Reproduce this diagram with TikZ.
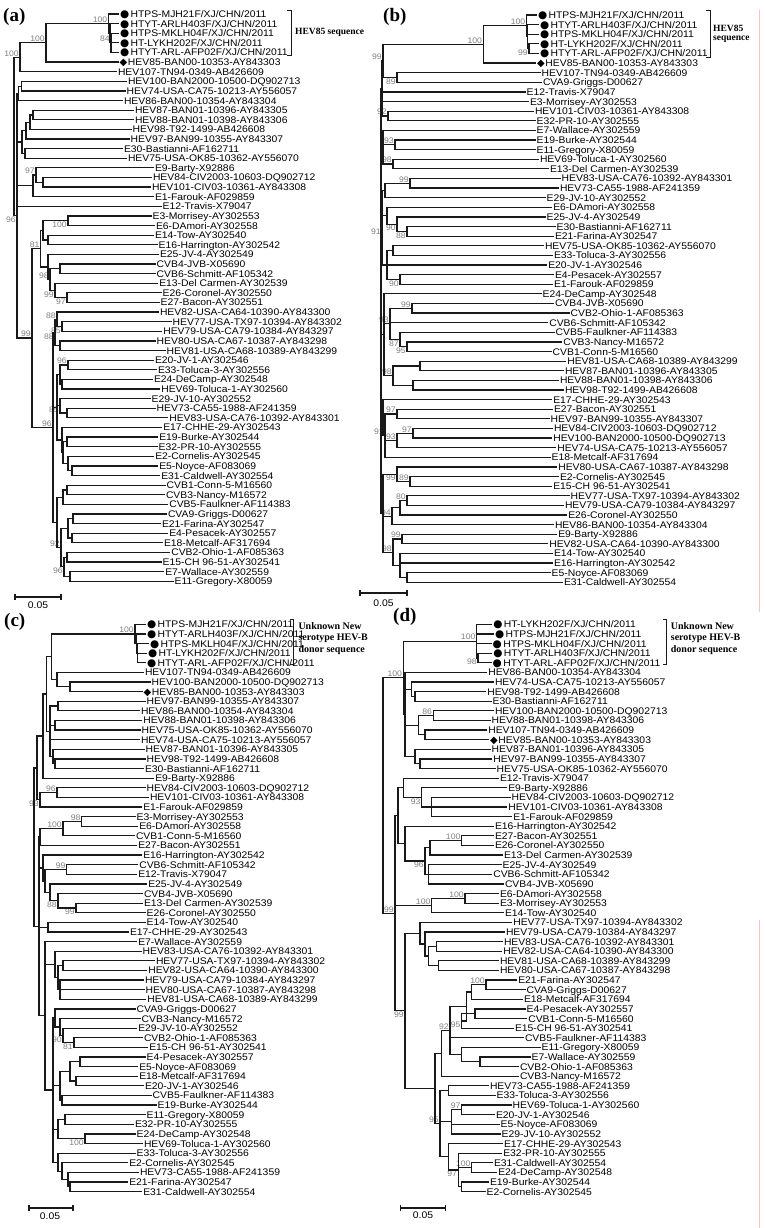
\documentclass[tikz,border=0pt]{standalone}
\usepackage{fontspec}
\setmainfont{Liberation Sans}
\newfontfamily\lff[FakeStretch=1.08]{Liberation Sans}
\newfontfamily\srf{Liberation Serif}
\newfontfamily\symf{DejaVu Sans}
\usetikzlibrary{calc}
\newcommand\mk{{\symf\fontsize{10.5}{10.5}\selectfont ●}\hspace{1.4pt}}
\newcommand\dmk{{\symf\fontsize{10}{10}\selectfont ◆}\hspace{0.8pt}}
\newcommand\Tl[4]{\node[leaf] (#1) at (#2,{\yo+(#3-1)*9.615}) {#4};}
\newcommand\Tn[4]{\path let \p1=(#3),\p2=(#4) in ({#2pt},{(\y1+\y2)/2}) coordinate (#1);
  \draw[br] (#1) |- (#3); \draw[br] (#1) |- (#4);}
\newcommand\Te[2]{\foreach \ch in {#2}{\draw[br] (#1) |- (\ch);}}
\newcommand\BsA[2]{\node[bs,anchor=south east,xshift=-0.5pt,yshift=0.3pt] (#1-b) at (#1) {#2};}
\newcommand\BsB[2]{\node[bs,anchor=north east,xshift=-0.5pt,yshift=-0.3pt] (#1-b) at (#1) {#2};}
\tikzset{
  leaf/.style={anchor=west, inner xsep=1pt, inner ysep=0pt, outer sep=0pt, text height=7pt, text depth=0pt, font=\lff\fontsize{9.6}{9.6}\selectfont},
  br/.style={line width=1.2pt, black!90},
  bs/.style={font=\lff\fontsize{8}{8}\selectfont, text=black!50, inner sep=0.6pt},
  pl/.style={anchor=west, inner sep=0pt, font=\srf\bfseries\fontsize{19}{19}\selectfont},
  bt/.style={anchor=west, inner sep=0pt, align=left, font=\srf\bfseries\fontsize{9.5}{9.4}\selectfont},
  bt2/.style={anchor=west, inner sep=0pt, align=left, font=\srf\bfseries\fontsize{10}{11.7}\selectfont},
  sc/.style={inner sep=0pt, font=\lff\fontsize{9.6}{9.6}\selectfont},
  pk/.style={draw=red!25, line width=0.8pt}
}
\begin{document}
\begin{tikzpicture}[x=1pt,y=-1pt]
\useasboundingbox (0,0) rectangle (764,1228);
\fill[white] (0,0) rectangle (764,1228);
% ================= (a) =================
\def\yo{14}
\node[pl] (la) at (3,17) {(a)};
\Tl{a1}{119}{1}{\mk HTPS-MJH21F/XJ/CHN/2011}
\Tl{a2}{119}{2}{\mk HTYT-ARLH403F/XJ/CHN/2011}
\Tl{a3}{119}{3}{\mk HTPS-MKLH04F/XJ/CHN/2011}
\Tl{a4}{119}{4}{\mk HT-LYKH202F/XJ/CHN/2011}
\Tl{a5}{119}{5}{\mk HTYT-ARL-AFP02F/XJ/CHN/2011}
\Tl{a6}{118.5}{6}{\dmk HEV85-BAN00-10353-AY843303}
\Tl{a7}{117}{7}{HEV107-TN94-0349-AB426609}
\Tl{a8}{127}{8}{HEV100-BAN2000-10500-DQ902713}
\Tl{a9}{125.7}{9}{HEV74-USA-CA75-10213-AY556057}
\Tl{a10}{123}{10}{HEV86-BAN00-10354-AY843304}
\Tl{a11}{134}{11}{HEV87-BAN01-10396-AY843305}
\Tl{a12}{134}{12}{HEV88-BAN01-10398-AY843306}
\Tl{a13}{131.7}{13}{HEV98-T92-1499-AB426608}
\Tl{a14}{129.7}{14}{HEV97-BAN99-10355-AY843307}
\Tl{a15}{123}{15}{E30-Bastianni-AF162711}
\Tl{a16}{127}{16}{HEV75-USA-OK85-10362-AY556070}
\Tl{a17}{154}{17}{E9-Barty-X92886}
\Tl{a18}{152}{18}{HEV84-CIV2003-10603-DQ902712}
\Tl{a19}{151}{19}{HEV101-CIV03-10361-AY843308}
\Tl{a20}{154}{20}{E1-Farouk-AF029859}
\Tl{a21}{161.7}{21}{E12-Travis-X79047}
\Tl{a22}{151.7}{22}{E3-Morrisey-AY302553}
\Tl{a23}{155}{23}{E6-DAmori-AY302558}
\Tl{a24}{154}{24}{E14-Tow-AY302540}
\Tl{a25}{157.7}{25}{E16-Harrington-AY302542}
\Tl{a26}{159}{26}{E25-JV-4-AY302549}
\Tl{a27}{155.7}{27}{CVB4-JVB-X05690}
\Tl{a28}{155.7}{28}{CVB6-Schmitt-AF105342}
\Tl{a29}{158.3}{29}{E13-Del Carmen-AY302539}
\Tl{a30}{161.7}{30}{E26-Coronel-AY302550}
\Tl{a31}{159.7}{31}{E27-Bacon-AY302551}
\Tl{a32}{159}{32}{HEV82-USA-CA64-10390-AY843300}
\Tl{a33}{171.7}{33}{HEV77-USA-TX97-10394-AY843302}
\Tl{a34}{162.3}{34}{HEV79-USA-CA79-10384-AY843297}
\Tl{a35}{155.7}{35}{HEV80-USA-CA67-10387-AY843298}
\Tl{a36}{165.7}{36}{HEV81-USA-CA68-10389-AY843299}
\Tl{a37}{154}{37}{E20-JV-1-AY302546}
\Tl{a38}{157}{38}{E33-Toluca-3-AY302556}
\Tl{a39}{153}{39}{E24-DeCamp-AY302548}
\Tl{a40}{160.3}{40}{HEV69-Toluca-1-AY302560}
\Tl{a41}{150.7}{41}{E29-JV-10-AY302552}
\Tl{a42}{155.7}{42}{HEV73-CA55-1988-AF241359}
\Tl{a43}{168.3}{43}{HEV83-USA-CA76-10392-AY843301}
\Tl{a44}{162.3}{44}{E17-CHHE-29-AY302543}
\Tl{a45}{158.3}{45}{E19-Burke-AY302544}
\Tl{a46}{157.7}{46}{E32-PR-10-AY302555}
\Tl{a47}{154.3}{47}{E2-Cornelis-AY302545}
\Tl{a48}{158.3}{48}{E5-Noyce-AF083069}
\Tl{a49}{160.3}{49}{E31-Caldwell-AY302554}
\Tl{a50}{165.7}{50}{CVB1-Conn-5-M16560}
\Tl{a51}{165}{51}{CVB3-Nancy-M16572}
\Tl{a52}{168.3}{52}{CVB5-Faulkner-AF114383}
\Tl{a53}{167}{53}{CVA9-Griggs-D00627}
\Tl{a54}{161}{54}{E21-Farina-AY302547}
\Tl{a55}{168.3}{55}{E4-Pesacek-AY302557}
\Tl{a56}{163}{56}{E18-Metcalf-AF317694}
\Tl{a57}{170.3}{57}{CVB2-Ohio-1-AF085363}
\Tl{a58}{161.7}{58}{E15-CH 96-51-AY302541}
\Tl{a59}{164.3}{59}{E7-Wallace-AY302559}
\Tl{a60}{173.7}{60}{E11-Gregory-X80059}
\Tn{ac3}{111}{a3}{a5}\Te{ac3}{a4}\BsA{ac3}{84}
\Tn{ac2}{110}{a2}{ac3}
\Tn{ac1}{108.5}{a1}{ac2}\BsA{ac1}{100}
\Tn{aA}{46}{ac1}{a6}\BsA{aA}{100}
\Tn{aR1}{20}{aA}{a7}\BsA{aR1}{100}
\Tn{ag8a}{21.5}{a8}{a9}
\Tn{ag8}{18.5}{ag8a}{a10}
\Tn{ag11a}{33}{a11}{a12}
\Tn{ag11b}{30}{ag11a}{a13}
\Tn{ag11c}{26}{ag11b}{a14}
\Tn{ag15}{25}{a15}{a16}
\Tn{ag11}{22}{ag11c}{ag15}
\Tn{ag18}{43}{a18}{a19}
\Tn{ag17}{36}{a17}{ag18}\BsA{ag17}{97}
\Tn{ag17b}{33}{ag17}{a20}
\Tn{ag22}{68}{a22}{a23}\BsB{ag22}{100}
\Tn{ag24}{48}{a24}{a25}
\Tn{aG1}{43}{ag22}{ag24}
\Tn{ag27}{60}{a27}{a28}
\Tn{ag30}{67}{a30}{a31}\BsB{ag30}{97}
\Tn{ag29}{55}{a29}{ag30}\BsB{ag29}{99}
\Tn{ag27b}{50}{ag27}{ag29}\BsA{ag27b}{98}
\Tn{aG2}{48}{a26}{ag27b}
\Tn{aG12}{40.7}{aG1}{aG2}\BsA{aG12}{81}
\Tn{ag33}{62}{a33}{a34}\BsB{ag33}{85}
\Tn{ag32}{57}{a32}{ag33}\BsA{ag32}{88}
\Tn{ag35}{60}{a35}{a36}
\Tn{aG3}{55}{ag32}{ag35}\BsB{aG3}{88}
\Tn{ag37}{68}{a37}{a38}\BsA{ag37}{96}
\Tn{ag39}{62}{a39}{a40}
\Tn{ag37b}{60}{ag37}{ag39}
\Tn{ag42}{67}{a42}{a43}
\Tn{ag41}{60}{a41}{ag42}\BsB{ag41}{85}
\Tn{ag45}{67}{a45}{a46}
\Tn{ag48}{72}{a48}{a49}
\Tn{ag47}{68}{a47}{ag48}
\Tn{ag45b}{63}{ag45}{ag47}
\Tn{ag44}{62}{a44}{ag45b}
\Tn{aG4}{57}{ag37b}{ag44}\Te{aG4}{ag41}
\Tn{ag50}{67}{a50}{a51}
\Tn{ag50b}{63}{ag50}{a52}
\Tn{ag53}{73}{a53}{a54}
\Tn{ag55}{72}{a55}{a56}
\Tn{ag53b}{68}{ag53}{ag55}
\Tn{ag57}{67}{a57}{a58}
\Tn{ag59}{70}{a59}{a60}
\Tn{ag57b}{64}{ag57}{ag59}\BsB{ag57b}{96}
\Tn{ag53c}{61}{ag53b}{ag57b}\BsA{ag53c}{92}
\Tn{aG5}{57}{ag50b}{ag53c}
\Tn{aG345}{53}{aG3}{aG5}\Te{aG345}{aG4}\BsA{aG345}{96}
\Tn{aB}{32}{aG12}{aG345}\BsA{aB}{99}
\Tn{aR2}{17}{ag8}{aB}\Te{aR2}{ag11,ag17b,a21}\BsB{aR2}{96}
\Tn{aroot}{14}{aR1}{aR2}
\draw[br,line width=0.9pt] (287,10) -- (291.7,10) -- (291.7,55) -- (287,55);
\node[bt] (ta) at (295,32) {HEV85 sequence};
\draw[br] (15,594) -- (15,600) (15,597) -- (61,597) (61,594) -- (61,600);
\node[sc] (sa) at (38,605) {0.05};
% ================= (b) =================
\def\yo{15}
\node[pl] (lb) at (383,17) {(b)};
\Tl{b1}{537}{1}{\mk HTPS-MJH21F/XJ/CHN/2011}
\Tl{b2}{539}{2}{\mk HTYT-ARLH403F/XJ/CHN/2011}
\Tl{b3}{539}{3}{\mk HTPS-MKLH04F/XJ/CHN/2011}
\Tl{b4}{539}{4}{\mk HT-LYKH202F/XJ/CHN/2011}
\Tl{b5}{539}{5}{\mk HTYT-ARL-AFP02F/XJ/CHN/2011}
\Tl{b6}{536}{6}{\dmk HEV85-BAN00-10353-AY843303}
\Tl{b7}{540.7}{7}{HEV107-TN94-0349-AB426609}
\Tl{b8}{542}{8}{CVA9-Griggs-D00627}
\Tl{b9}{525.7}{9}{E12-Travis-X79047}
\Tl{b10}{529}{10}{E3-Morrisey-AY302553}
\Tl{b11}{534}{11}{HEV101-CIV03-10361-AY843308}
\Tl{b12}{535.7}{12}{E32-PR-10-AY302555}
\Tl{b13}{535.7}{13}{E7-Wallace-AY302559}
\Tl{b14}{535.7}{14}{E19-Burke-AY302544}
\Tl{b15}{535.7}{15}{E11-Gregory-X80059}
\Tl{b16}{539}{16}{HEV69-Toluca-1-AY302560}
\Tl{b17}{549}{17}{E13-Del Carmen-AY302539}
\Tl{b18}{560.7}{18}{HEV83-USA-CA76-10392-AY843301}
\Tl{b19}{559}{19}{HEV73-CA55-1988-AF241359}
\Tl{b20}{545.7}{20}{E29-JV-10-AY302552}
\Tl{b21}{552.3}{21}{E6-DAmori-AY302558}
\Tl{b22}{545.7}{22}{E25-JV-4-AY302549}
\Tl{b23}{555.7}{23}{E30-Bastianni-AF162711}
\Tl{b24}{554}{24}{E21-Farina-AY302547}
\Tl{b25}{544}{25}{HEV75-USA-OK85-10362-AY556070}
\Tl{b26}{553}{26}{E33-Toluca-3-AY302556}
\Tl{b27}{547.3}{27}{E20-JV-1-AY302546}
\Tl{b28}{554}{28}{E4-Pesacek-AY302557}
\Tl{b29}{553}{29}{E1-Farouk-AF029859}
\Tl{b30}{541.7}{30}{E24-DeCamp-AY302548}
\Tl{b31}{554}{31}{CVB4-JVB-X05690}
\Tl{b32}{569.7}{32}{CVB2-Ohio-1-AF085363}
\Tl{b33}{548.3}{33}{CVB6-Schmitt-AF105342}
\Tl{b34}{554.7}{34}{CVB5-Faulkner-AF114383}
\Tl{b35}{562.3}{35}{CVB3-Nancy-M16572}
\Tl{b36}{551.7}{36}{CVB1-Conn-5-M16560}
\Tl{b37}{566.3}{37}{HEV81-USA-CA68-10389-AY843299}
\Tl{b38}{564}{38}{HEV87-BAN01-10396-AY843305}
\Tl{b39}{559}{39}{HEV88-BAN01-10398-AY843306}
\Tl{b40}{564}{40}{HEV98-T92-1499-AB426608}
\Tl{b41}{552.3}{41}{E17-CHHE-29-AY302543}
\Tl{b42}{553}{42}{E27-Bacon-AY302551}
\Tl{b43}{549.7}{43}{HEV97-BAN99-10355-AY843307}
\Tl{b44}{553}{44}{HEV84-CIV2003-10603-DQ902712}
\Tl{b45}{552.3}{45}{HEV100-BAN2000-10500-DQ902713}
\Tl{b46}{556.3}{46}{HEV74-USA-CA75-10213-AY556057}
\Tl{b47}{550.7}{47}{E18-Metcalf-AF317694}
\Tl{b48}{557.3}{48}{HEV80-USA-CA67-10387-AY843298}
\Tl{b49}{559}{49}{E2-Cornelis-AY302545}
\Tl{b50}{552.3}{50}{E15-CH 96-51-AY302541}
\Tl{b51}{569.7}{51}{HEV77-USA-TX97-10394-AY843302}
\Tl{b52}{564}{52}{HEV79-USA-CA79-10384-AY843297}
\Tl{b53}{567.3}{53}{E26-Coronel-AY302550}
\Tl{b54}{554}{54}{HEV86-BAN00-10354-AY843304}
\Tl{b55}{557.3}{55}{E9-Barty-X92886}
\Tl{b56}{548.3}{56}{HEV82-USA-CA64-10390-AY843300}
\Tl{b57}{553}{57}{E14-Tow-AY302540}
\Tl{b58}{553}{58}{E16-Harrington-AY302542}
\Tl{b59}{550.7}{59}{E5-Noyce-AF083069}
\Tl{b60}{563}{60}{E31-Caldwell-AY302554}
\Tn{bc3}{529}{b4}{b5}\BsB{bc3}{99}
\Tn{bc2}{527.5}{b2}{bc3}\Te{bc2}{b3}
\Tn{bc1}{526.5}{b1}{bc2}\BsA{bc1}{100}
\Tn{bA}{483.3}{bc1}{b6}\BsA{bA}{100}
\Tn{bg7}{397}{b7}{b8}\BsB{bg7}{89}
\Tn{bP}{383}{bA}{bg7}\BsA{bP}{99}
\Tn{bg11}{388}{b11}{b12}\BsA{bg11}{92}
\Tn{bg14}{395}{b14}{b15}\BsA{bg14}{93}
\Tn{bg16}{393}{b16}{b17}\BsA{bg16}{98}
\Tn{bg18}{410}{b18}{b19}\BsA{bg18}{99}
\Tn{bg18b}{385}{bg18}{b20}
\Tn{bg23}{407}{b23}{b24}\BsB{bg23}{88}
\Tn{bg22}{397}{b22}{bg23}\BsB{bg22}{90}
\Tn{bg21}{387}{b21}{bg22}
\Tn{bg25}{393}{b25}{b26}
\Tn{bg28}{400}{b28}{b29}\BsB{bg28}{90}
\Tn{bg27}{387}{bg25}{bg28}\Te{bg27}{b27}
\Tn{bg31}{412}{b31}{b32}\BsA{bg31}{99}
\Tn{bg35}{407}{b35}{b36}\BsB{bg35}{95}
\Tn{bg34}{400}{b34}{bg35}\BsB{bg34}{87}
\Tn{bg31b}{390}{bg31}{bg34}\Te{bg31b}{b33}\BsA{bg31b}{93}
\Tn{bg37}{420}{b37}{b38}
\Tn{bg39}{413}{b39}{b40}
\Tn{bg37b}{393}{bg37}{bg39}\BsA{bg37b}{98}
\Tn{bg42}{397}{b42}{b43}\BsA{bg42}{97}
\Tn{bg44}{413}{b44}{b45}\BsA{bg44}{97}
\Tn{bg44b}{397}{bg44}{b46}\BsA{bg44b}{93}
\Tn{bg42b}{385}{bg42}{b47}\Te{bg42b}{bg44b}\BsA{bg42b}{91}
\Tn{bg49}{410}{b49}{b50}\BsA{bg49}{89}
\Tn{bg48}{397}{b48}{bg49}\BsB{bg48}{99}
\Tn{bg51}{407}{b51}{b52}\BsA{bg51}{80}
\Tn{bg51b}{400}{bg51}{b53}
\Tn{bg51c}{392}{bg51b}{b54}\BsA{bg51c}{94}
\Tn{bg55}{402}{b55}{b56}\BsA{bg55}{99}
\Tn{bg59}{407}{b59}{b60}
\Tn{bg57}{400}{b57}{bg59}\Te{bg57}{b58}
\Tn{bg55b}{393}{bg55}{bg57}\BsA{bg55b}{98}
\Tn{bQ1}{382}{bP}{bg11}\Te{bQ1}{b9,b10}
\Tn{bQ2}{383}{b13}{bg16}\Te{bQ2}{bg14}
\Tn{bQ3}{382}{bg18b}{bg27}\Te{bQ3}{bg21}\BsB{bQ3}{91}
\Tn{bQ4}{384}{b30}{bg37b}\Te{bQ4}{bg31b}
\Tn{bQ5}{383}{b41}{bg42b}
\Tn{bQ6}{383}{bg48}{bg55b}\Te{bQ6}{bg51c}
\Tn{broot}{381}{bQ1}{bQ6}\Te{broot}{bQ2,bQ3,bQ4,bQ5}
\draw[br,line width=0.9pt] (706,10.7) -- (710,10.7) -- (710,57) -- (706,57);
\node[bt] (tb) at (713,33.7) {HEV85\\sequence};
\draw[br] (360,590) -- (360,596) (360,593) -- (407,593) (407,590) -- (407,596);
\node[sc] (sb) at (383.5,603) {0.05};
% ================= (c) =================
\def\yo{624.3}
\node[pl] (lc) at (4,622) {(c)};
\Tl{c1}{146}{1}{\mk HTPS-MJH21F/XJ/CHN/2011}
\Tl{c2}{146}{2}{\mk HTYT-ARLH403F/XJ/CHN/2011}
\Tl{c3}{149}{3}{\mk HTPS-MKLH04F/XJ/CHN/2011}
\Tl{c4}{147}{4}{\mk HT-LYKH202F/XJ/CHN/2011}
\Tl{c5}{146}{5}{\mk HTYT-ARL-AFP02F/XJ/CHN/2011}
\Tl{c6}{144}{6}{HEV107-TN94-0349-AB426609}
\Tl{c7}{150.7}{7}{HEV100-BAN2000-10500-DQ902713}
\Tl{c8}{142.5}{8}{\dmk HEV85-BAN00-10353-AY843303}
\Tl{c9}{145.7}{9}{HEV97-BAN99-10355-AY843307}
\Tl{c10}{140}{10}{HEV86-BAN00-10354-AY843304}
\Tl{c11}{142.3}{11}{HEV88-BAN01-10398-AY843306}
\Tl{c12}{140.7}{12}{HEV75-USA-OK85-10362-AY556070}
\Tl{c13}{140}{13}{HEV74-USA-CA75-10213-AY556057}
\Tl{c14}{144.7}{14}{HEV87-BAN01-10396-AY843305}
\Tl{c15}{145.7}{15}{HEV98-T92-1499-AB426608}
\Tl{c16}{144}{16}{E30-Bastianni-AF162711}
\Tl{c17}{154.3}{17}{E9-Barty-X92886}
\Tl{c18}{145.7}{18}{HEV84-CIV2003-10603-DQ902712}
\Tl{c19}{149}{19}{HEV101-CIV03-10361-AY843308}
\Tl{c20}{142.3}{20}{E1-Farouk-AF029859}
\Tl{c21}{135.7}{21}{E3-Morrisey-AY302553}
\Tl{c22}{138.3}{22}{E6-DAmori-AY302558}
\Tl{c23}{135}{23}{CVB1-Conn-5-M16560}
\Tl{c24}{137.3}{24}{E27-Bacon-AY302551}
\Tl{c25}{142.3}{25}{E16-Harrington-AY302542}
\Tl{c26}{138.3}{26}{CVB6-Schmitt-AF105342}
\Tl{c27}{137.3}{27}{E12-Travis-X79047}
\Tl{c28}{147.3}{28}{E25-JV-4-AY302549}
\Tl{c29}{143}{29}{CVB4-JVB-X05690}
\Tl{c30}{143}{30}{E13-Del Carmen-AY302539}
\Tl{c31}{145.7}{31}{E26-Coronel-AY302550}
\Tl{c32}{145.7}{32}{E14-Tow-AY302540}
\Tl{c33}{129}{33}{E17-CHHE-29-AY302543}
\Tl{c34}{137.3}{34}{E7-Wallace-AY302559}
\Tl{c35}{141.7}{35}{HEV83-USA-CA76-10392-AY843301}
\Tl{c36}{155}{36}{HEV77-USA-TX97-10394-AY843302}
\Tl{c37}{147.3}{37}{HEV82-USA-CA64-10390-AY843300}
\Tl{c38}{144}{38}{HEV79-USA-CA79-10384-AY843297}
\Tl{c39}{144.7}{39}{HEV80-USA-CA67-10387-AY843298}
\Tl{c40}{146.3}{40}{HEV81-USA-CA68-10389-AY843299}
\Tl{c41}{135.7}{41}{CVA9-Griggs-D00627}
\Tl{c42}{140.7}{42}{CVB3-Nancy-M16572}
\Tl{c43}{137.3}{43}{E29-JV-10-AY302552}
\Tl{c44}{143}{44}{CVB2-Ohio-1-AF085363}
\Tl{c45}{148.3}{45}{E15-CH 96-51-AY302541}
\Tl{c46}{145.7}{46}{E4-Pesacek-AY302557}
\Tl{c47}{138.3}{47}{E5-Noyce-AF083069}
\Tl{c48}{138.3}{48}{E18-Metcalf-AF317694}
\Tl{c49}{144}{49}{E20-JV-1-AY302546}
\Tl{c50}{151.7}{50}{CVB5-Faulkner-AF114383}
\Tl{c51}{156.7}{51}{E19-Burke-AY302544}
\Tl{c52}{145.7}{52}{E11-Gregory-X80059}
\Tl{c53}{134}{53}{E32-PR-10-AY302555}
\Tl{c54}{135.7}{54}{E24-DeCamp-AY302548}
\Tl{c55}{143}{55}{HEV69-Toluca-1-AY302560}
\Tl{c56}{135.7}{56}{E33-Toluca-3-AY302556}
\Tl{c57}{128.3}{57}{E2-Cornelis-AY302545}
\Tl{c58}{139}{58}{HEV73-CA55-1988-AF241359}
\Tl{c59}{128.3}{59}{E21-Farina-AY302547}
\Tl{c60}{142.3}{60}{E31-Caldwell-AY302554}
\Tn{cc3}{137.5}{c3}{c5}\Te{cc3}{c4}
\Tn{cc2}{136.5}{c2}{cc3}
\Tn{cc1}{135}{c1}{cc2}\BsA{cc1}{100}
\Tn{cg7}{70}{c7}{c8}
\Tn{cg6}{57}{c6}{cg7}
\Tn{cA}{51.7}{cc1}{cg6}
\Tn{cg9}{58}{c9}{c10}
\Tn{cg11}{55}{c11}{c12}
\Tn{cg15}{55}{c15}{c16}
\Tn{cg14}{53}{c14}{cg15}
\Tn{cB1}{50}{cg9}{cg14}\Te{cB1}{cg11,c13}
\Tn{cB2}{46.7}{cA}{cB1}
\Tn{cB3}{43}{cB2}{c17}
\Tn{cg18}{57}{c18}{c19}\BsA{cg18}{96}
\Tn{cg18b}{40}{cg18}{c20}\BsB{cg18b}{93}
\Tn{cB4}{37}{cB3}{cg18b}
\Tn{cg21}{81.7}{c21}{c22}\BsA{cg21}{98}
\Tn{cg21b}{63}{cg21}{c23}\BsA{cg21b}{100}
\Tn{cg21c}{40}{cg21b}{c24}
\Tn{cg26}{66.7}{c26}{c27}\BsA{cg26}{99}
\Tn{cg30}{76}{c30}{c31}\BsB{cg30}{99}
\Tn{cg29}{58}{c29}{cg30}\BsB{cg29}{88}
\Tn{cg28}{50}{c28}{cg29}
\Tn{cg26b}{45}{cg26}{cg28}
\Tn{cg25}{43}{c25}{cg26b}
\Tn{cg32}{48}{c32}{c33}
\Tn{cg36}{63}{c36}{c37}
\Tn{cg38}{60}{c38}{c40}\Te{cg38}{c39}
\Tn{cg36b}{58}{cg36}{cg38}
\Tn{cg35}{55}{c35}{cg36b}
\Tn{cg44}{74}{c44}{c45}\BsB{cg44}{81}
\Tn{cg43}{63}{c43}{cg44}\BsB{cg43}{90}
\Tn{cg42}{60}{c42}{cg43}
\Tn{cg41}{55}{c41}{cg42}
\Tn{cg46}{80}{c46}{c47}
\Tn{cg48}{76}{c48}{c49}
\Tn{cg46b}{70}{cg46}{cg48}
\Tn{cg50}{62}{c50}{c51}
\Tn{cg46c}{60}{cg46b}{cg50}
\Tn{cg52}{65}{c52}{c53}
\Tn{cg54}{85}{c54}{c55}\BsB{cg54}{100}
\Tn{cg52b}{58}{cg52}{cg54}
\Tn{cg59}{70}{c59}{c60}
\Tn{cg58}{68}{c58}{cg59}
\Tn{cg57}{62}{c57}{cg58}
\Tn{cg56}{58}{c56}{cg57}
\Tn{cC2}{53}{cg41}{cg56}\Te{cC2}{cg46c,cg52b}
\Tn{cg34}{45}{c34}{cC2}\Te{cg34}{cg35}
\Tn{cC1}{39}{cg21c}{cg34}\Te{cC1}{cg25,cg32}
\Tn{croot}{34}{cB4}{cC1}
\draw[br,line width=0.9pt] (290,619) -- (293.3,619) -- (293.3,664.3) -- (290,664.3);
\node[bt2] (tc) at (298.3,638.4) {Unknown New\\serotype HEV-B\\donor sequence};
\draw[br] (29,1205) -- (29,1211) (29,1208) -- (73,1208) (73,1205) -- (73,1211);
\node[sc] (scc) at (50,1216) {0.05};
% ================= (d) =================
\node[pl] (ld) at (393,617) {(d)};
\Tl{d1}{492.3}{1}{\mk HT-LYKH202F/XJ/CHN/2011}
\Tl{d2}{494}{2}{\mk HTPS-MJH21F/XJ/CHN/2011}
\Tl{d3}{491.7}{3}{\mk HTPS-MKLH04F/XJ/CHN/2011}
\Tl{d4}{492.3}{4}{\mk HTYT-ARLH403F/XJ/CHN/2011}
\Tl{d5}{491.7}{5}{\mk HTYT-ARL-AFP02F/XJ/CHN/2011}
\Tl{d6}{487.3}{6}{HEV86-BAN00-10354-AY843304}
\Tl{d7}{494}{7}{HEV74-USA-CA75-10213-AY556057}
\Tl{d8}{486.3}{8}{HEV98-T92-1499-AB426608}
\Tl{d9}{491.7}{9}{E30-Bastianni-AF162711}
\Tl{d10}{494}{10}{HEV100-BAN2000-10500-DQ902713}
\Tl{d11}{490.7}{11}{HEV88-BAN01-10398-AY843306}
\Tl{d12}{487.3}{12}{HEV107-TN94-0349-AB426609}
\Tl{d13}{489}{13}{\dmk HEV85-BAN00-10353-AY843303}
\Tl{d14}{490.7}{14}{HEV87-BAN01-10396-AY843305}
\Tl{d15}{492.3}{15}{HEV97-BAN99-10355-AY843307}
\Tl{d16}{495.7}{16}{HEV75-USA-OK85-10362-AY556070}
\Tl{d17}{499}{17}{E12-Travis-X79047}
\Tl{d18}{507.3}{18}{E9-Barty-X92886}
\Tl{d19}{510.7}{19}{HEV84-CIV2003-10603-DQ902712}
\Tl{d20}{507.3}{20}{HEV101-CIV03-10361-AY843308}
\Tl{d21}{512.3}{21}{E1-Farouk-AF029859}
\Tl{d22}{494}{22}{E16-Harrington-AY302542}
\Tl{d23}{494}{23}{E27-Bacon-AY302551}
\Tl{d24}{494}{24}{E26-Coronel-AY302550}
\Tl{d25}{503}{25}{E13-Del Carmen-AY302539}
\Tl{d26}{501.7}{26}{E25-JV-4-AY302549}
\Tl{d27}{492.3}{27}{CVB6-Schmitt-AF105342}
\Tl{d28}{504}{28}{CVB4-JVB-X05690}
\Tl{d29}{499}{29}{E6-DAmori-AY302558}
\Tl{d30}{499}{30}{E3-Morrisey-AY302553}
\Tl{d31}{504}{31}{E14-Tow-AY302540}
\Tl{d32}{512.3}{32}{HEV77-USA-TX97-10394-AY843302}
\Tl{d33}{505}{33}{HEV79-USA-CA79-10384-AY843297}
\Tl{d34}{503}{34}{HEV83-USA-CA76-10392-AY843301}
\Tl{d35}{502.3}{35}{HEV82-USA-CA64-10390-AY843300}
\Tl{d36}{499}{36}{HEV81-USA-CA68-10389-AY843299}
\Tl{d37}{499}{37}{HEV80-USA-CA67-10387-AY843298}
\Tl{d38}{517.3}{38}{E21-Farina-AY302547}
\Tl{d39}{525.7}{39}{CVA9-Griggs-D00627}
\Tl{d40}{523}{40}{E18-Metcalf-AF317694}
\Tl{d41}{525.7}{41}{E4-Pesacek-AY302557}
\Tl{d42}{527.3}{42}{CVB1-Conn-5-M16560}
\Tl{d43}{514}{43}{E15-CH 96-51-AY302541}
\Tl{d44}{524}{44}{CVB5-Faulkner-AF114383}
\Tl{d45}{540.7}{45}{E11-Gregory-X80059}
\Tl{d46}{530.7}{46}{E7-Wallace-AY302559}
\Tl{d47}{519}{47}{CVB2-Ohio-1-AF085363}
\Tl{d48}{519}{48}{CVB3-Nancy-M16572}
\Tl{d49}{489}{49}{HEV73-CA55-1988-AF241359}
\Tl{d50}{495.7}{50}{E33-Toluca-3-AY302556}
\Tl{d51}{511.7}{51}{HEV69-Toluca-1-AY302560}
\Tl{d52}{495}{52}{E20-JV-1-AY302546}
\Tl{d53}{499.7}{53}{E5-Noyce-AF083069}
\Tl{d54}{500.7}{54}{E29-JV-10-AY302552}
\Tl{d55}{503}{55}{E17-CHHE-29-AY302543}
\Tl{d56}{502.3}{56}{E32-PR-10-AY302555}
\Tl{d57}{493}{57}{E31-Caldwell-AY302554}
\Tl{d58}{497.3}{58}{E24-DeCamp-AY302548}
\Tl{d59}{489}{59}{E19-Burke-AY302544}
\Tl{d60}{485.7}{60}{E2-Cornelis-AY302545}
\Tn{dc2}{478}{d4}{d5}\BsB{dc2}{98}
\Tn{dc1}{476.7}{d1}{dc2}\Te{dc1}{d2,d3}\BsA{dc1}{100}
\Tn{dg8}{415}{d8}{d9}
\Tn{dg7}{411.7}{d7}{dg8}
\Tn{dg10}{433.3}{d10}{d11}\BsA{dg10}{86}
\Tn{dg12}{425}{d12}{d13}
\Tn{dg10b}{418.3}{dg10}{dg12}
\Tn{dg15}{420}{d15}{d16}
\Tn{dg14}{415}{d14}{dg15}
\Tn{dB}{405}{d6}{dg14}\Te{dB}{dg7,dg10b}
\Tn{dA}{403.3}{dc1}{dB}\BsA{dA}{100}
\Tn{dg19}{431.7}{d19}{d21}\Te{dg19}{d20}
\Tn{dg18}{421.7}{d18}{dg19}\BsB{dg18}{93}
\Tn{dg17}{403.3}{d17}{dg18}
\Tn{dg23}{461.7}{d23}{d24}\BsA{dg23}{100}
\Tn{dg23b}{430}{dg23}{d25}
\Tn{dg26}{428.3}{d26}{d28}\Te{dg26}{d27}
\Tn{dg23c}{425}{dg23b}{dg26}\BsB{dg23c}{96}
\Tn{dg22}{405}{d22}{dg23c}
\Tn{dL1}{398}{dg17}{dg22}
\Tn{dg29}{465}{d29}{d30}\BsA{dg29}{100}
\Tn{dg29b}{431.7}{dg29}{d31}\BsA{dg29b}{100}
\Tn{dg34}{436.7}{d34}{d35}
\Tn{dg36}{438.3}{d36}{d37}
\Tn{dg34b}{428.3}{dg34}{dg36}
\Tn{dg33}{425}{d33}{dg34b}
\Tn{dg32}{420}{d32}{dg33}
\Tn{dg38}{486}{d38}{d39}\BsA{dg38}{100}
\Tn{dg38b}{471.7}{dg38}{d40}
\Tn{dg41}{475}{d41}{d42}
\Tn{dg41b}{461.7}{dg41}{d43}\BsB{dg41b}{95}
\Tn{dg38c}{466.7}{dg38b}{dg41b}
\Tn{dg46}{480}{d46}{d47}
\Tn{dg45}{461.7}{d45}{dg46}
\Tn{dgX}{450}{dg38c}{dg45}\Te{dgX}{d44}\BsA{dgX}{92}
\Tn{dgY}{441.7}{dgX}{d48}
\Tn{dg49}{448.3}{d49}{d50}
\Tn{dg51}{461.7}{d51}{d52}\BsA{dg51}{97}
\Tn{dg51b}{451.7}{dg51}{d54}\Te{dg51b}{d53}
\Tn{dg57}{471.7}{d57}{d58}\BsA{dg57}{100}
\Tn{dg59}{461.7}{d59}{d60}
\Tn{dg56}{458.3}{d56}{dg59}\Te{dg56}{dg57}\BsB{dg56}{97}
\Tn{dg55}{448.3}{d55}{dg56}
\Tn{dg49b}{440}{dg49}{dg55}\Te{dg49b}{dg51b}\BsA{dg49b}{95}
\Tn{dLG}{435}{dgY}{dg49b}
\Tn{dM}{405}{dg32}{dLG}\BsB{dM}{99}
\Tn{dL2}{395}{dL1}{dM}\Te{dL2}{dg29b}\BsA{dL2}{99}
\Tn{droot}{383}{dA}{dL2}
\draw[br,line width=0.9pt] (663,619) -- (666.7,619) -- (666.7,664) -- (663,664);
\node[bt2] (td) at (670.7,638.4) {Unknown New\\serotype HEV-B\\donor sequence};
\draw[br] (400.7,1205) -- (400.7,1211) (400.7,1208) -- (445.7,1208) (445.7,1205) -- (445.7,1211);
\node[sc] (sd) at (423,1215) {0.05};
% pink edge artefacts
\draw[pk] (759,10) -- (759,612);
\draw[pk] (759,920) -- (759,1228);
\end{tikzpicture}
\end{document}
